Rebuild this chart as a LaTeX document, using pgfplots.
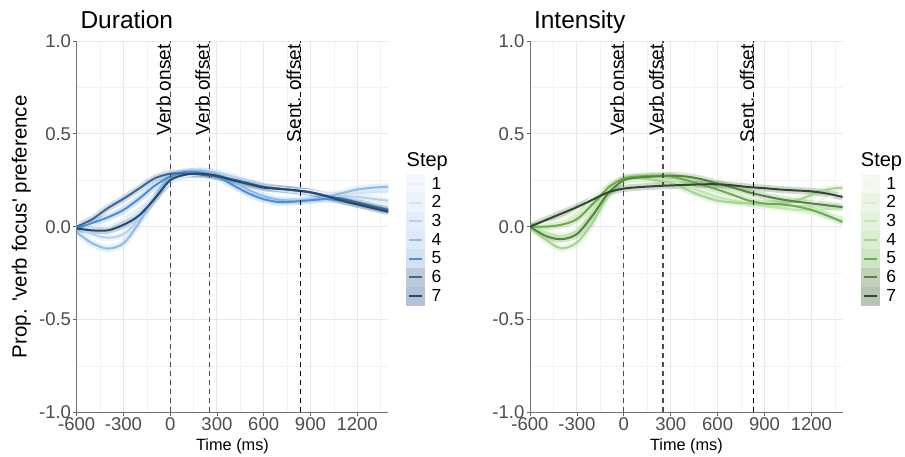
\documentclass[border=0pt]{standalone}
\usepackage{fontspec}
\setmainfont{Liberation Sans}[Ligatures=TeXOff]
\usepackage{pgfplots}
\pgfplotsset{compat=1.18}
\usepackage{pgfplotstable}

% line colours (Blues / Greens)
\definecolor{b1}{HTML}{E6EFF8}
\definecolor{b2}{HTML}{D2E3F3}
\definecolor{b3}{HTML}{B4D2EE}
\definecolor{b4}{HTML}{8FBCE6}
\definecolor{b5}{HTML}{4A8FD8}
\definecolor{b6}{HTML}{3B6792}
\definecolor{b7}{HTML}{244A72}
\definecolor{bf1}{HTML}{F3F7FC}
\definecolor{bf2}{HTML}{ECF3FA}
\definecolor{bf3}{HTML}{E4EEF8}
\definecolor{bf4}{HTML}{DDE9F6}
\definecolor{bf5}{HTML}{D0E1F3}
\definecolor{bf6}{HTML}{BECAD9}
\definecolor{bf7}{HTML}{B2C2D5}
\definecolor{g1}{HTML}{EDF6E9}
\definecolor{g2}{HTML}{DBEFD2}
\definecolor{g3}{HTML}{C4E4B6}
\definecolor{g4}{HTML}{A4D48E}
\definecolor{g5}{HTML}{69AE47}
\definecolor{g6}{HTML}{4E883B}
\definecolor{g7}{HTML}{30492B}
\definecolor{gf1}{HTML}{F4F9F2}
\definecolor{gf2}{HTML}{EBF5E6}
\definecolor{gf3}{HTML}{E3F1DD}
\definecolor{gf4}{HTML}{D9EDD1}
\definecolor{gf5}{HTML}{CEE6C2}
\definecolor{gf6}{HTML}{C3D1BC}
\definecolor{gf7}{HTML}{B8C5B5}

% Duration panel
\pgfplotstableread{
t     s1     s2     s3     s4     s5     s6     s7
-600  0.020  0.010  0.000 -0.030 -0.010  0.000 -0.010
-500  0.010 -0.010 -0.040 -0.090  0.020  0.040 -0.020
-400  0.000 -0.020 -0.060 -0.118  0.050  0.100 -0.020
-300  0.040  0.010 -0.040 -0.090  0.090  0.150  0.010
-200  0.100  0.080  0.040  0.020  0.150  0.205  0.060
-100  0.170  0.160  0.150  0.160  0.220  0.260  0.150
0     0.230  0.240  0.250  0.250  0.270  0.285  0.250
100   0.270  0.280  0.290  0.290  0.295  0.285  0.280
200   0.280  0.290  0.300  0.300  0.290  0.280  0.285
300   0.275  0.280  0.290  0.285  0.270  0.270  0.275
400   0.260  0.260  0.270  0.250  0.225  0.255  0.250
500   0.240  0.235  0.245  0.200  0.180  0.235  0.230
600   0.220  0.210  0.220  0.165  0.148  0.215  0.210
700   0.210  0.195  0.205  0.145  0.132  0.205  0.203
800   0.200  0.185  0.195  0.140  0.135  0.195  0.197
900   0.195  0.175  0.185  0.145  0.142  0.185  0.185
1000  0.180  0.170  0.170  0.160  0.148  0.165  0.165
1100  0.170  0.170  0.165  0.180  0.140  0.150  0.140
1200  0.155  0.180  0.160  0.200  0.122  0.130  0.120
1300  0.140  0.185  0.150  0.210  0.105  0.110  0.100
1400  0.120  0.190  0.140  0.215  0.090  0.090  0.080
}\dur

% Intensity panel
\pgfplotstableread{
t     s1     s2     s3     s4     s5     s6     s7
-600  0.000  0.000  0.000  0.000  0.000  0.000  0.000
-500  0.020  0.010 -0.030 -0.070  0.000 -0.050  0.035
-400  0.040  0.020 -0.050 -0.117  0.010 -0.068  0.070
-300  0.090  0.070 -0.020 -0.085  0.040 -0.040  0.105
-200  0.160  0.140  0.080  0.020  0.120  0.060  0.145
-100  0.210  0.200  0.200  0.170  0.210  0.180  0.185
0     0.240  0.240  0.260  0.250  0.260  0.250  0.205
100   0.255  0.250  0.265  0.260  0.270  0.265  0.213
200   0.260  0.250  0.260  0.250  0.275  0.270  0.218
300   0.245  0.230  0.245  0.235  0.270  0.275  0.222
400   0.220  0.200  0.220  0.200  0.250  0.270  0.225
500   0.195  0.175  0.190  0.165  0.225  0.255  0.228
600   0.170  0.150  0.160  0.140  0.200  0.232  0.228
700   0.155  0.140  0.140  0.130  0.170  0.210  0.222
800   0.140  0.130  0.125  0.125  0.140  0.185  0.213
900   0.130  0.125  0.110  0.123  0.125  0.165  0.207
1000  0.120  0.115  0.100  0.125  0.120  0.148  0.200
1100  0.120  0.100  0.090  0.140  0.110  0.135  0.195
1200  0.130  0.075  0.090  0.170  0.090  0.125  0.190
1300  0.155  0.060  0.095  0.200  0.060  0.115  0.178
1400  0.180  0.050  0.100  0.210  0.025  0.105  0.160
}\inten

\tikzset{vlab/.style={rotate=90, anchor=base east, font=\fontsize{19}{19}\selectfont}}

\pgfplotsset{
  panel/.style={
    scale only axis, height=371.3pt,
    xmin=-600, xmax=1400, ymin=-1, ymax=1,
    axis lines*=left, axis line style={black!55, line width=0.8pt},
    xtick={-600,-300,0,300,600,900,1200},
    minor xtick={-450,-150,150,450,750,1050,1350},
    ytick={-1,-0.5,0,0.5,1}, minor ytick={-0.75,-0.25,0.25,0.75},
    grid=both,
    major grid style={black!9, line width=0.9pt},
    minor grid style={black!5, line width=0.5pt},
    tick align=outside, major tick length=3.5pt, minor tick length=0pt,
    tick style={black!60, line width=0.8pt},
    ticklabel style={font=\fontsize{18.5}{19}\selectfont, text=black!70},
    xticklabel style={inner sep=1.5pt},
    yticklabel style={inner sep=2pt},
    /pgf/number format/assume math mode=true,
    /pgf/number format/1000 sep={},
    yticklabel style={/pgf/number format/.cd, fixed, fixed zerofill, precision=1},
    clip mode=individual,
    legend cell align=left,
    legend style={draw=none, fill=none, inner sep=0pt, row sep=0pt,
      anchor=north west, font=\fontsize{17.5}{17.5}\selectfont,
      nodes={inner sep=0pt, minimum height=18.3pt}},
  },
  halo/.style={line width=7pt, opacity=0.22, smooth, forget plot},
  curve/.style={line width=2pt, smooth, forget plot},
  vline/.style={dash pattern=on 5pt off 4pt, line width=1.2pt, forget plot},
  stepkey/.style 2 args={legend image code/.code={
    \fill[#1] (0pt,-9.15pt) rectangle (18pt,9.15pt);
    \draw[#2, line width=2pt] (2.5pt,0pt) -- (15.5pt,0pt);
    \path (25pt,0pt);}},
}

\begin{document}
\begin{tikzpicture}[x=1pt, y=1pt]
\useasboundingbox (0,0) rectangle (905,457);

\begin{axis}[panel, at={(76.7pt,44.7pt)}, anchor=south west, width=311.6pt,
  legend style={at={(1.0568,0.641)}}]
  \pgfplotsinvokeforeach{1,...,7}{\addplot[b#1, halo] table[x=t, y=s#1] {\dur};}
  \pgfplotsinvokeforeach{1,...,7}{\addplot[b#1, curve] table[x=t, y=s#1] {\dur};}
  \addplot[vline, black!70] coordinates {(0,-1) (0,1)};
  \addplot[vline, black!70] coordinates {(250,-1) (250,1)};
  \addplot[vline, black] coordinates {(835,-1) (835,1)};
  \node[vlab] at (axis cs:0,1) {Verb onset};
  \node[vlab] at (axis cs:250,1) {Verb offset};
  \node[vlab] at (axis cs:835,1) {Sent. offset};
  \pgfplotsinvokeforeach{1,...,7}{\addlegendimage{stepkey={bf#1}{b#1}}\addlegendentry{#1}}
\end{axis}

\begin{axis}[panel, at={(530pt,44.7pt)}, anchor=south west, width=312.7pt,
  legend style={at={(1.0576,0.641)}}]
  \pgfplotsinvokeforeach{1,...,7}{\addplot[g#1, halo] table[x=t, y=s#1] {\inten};}
  \pgfplotsinvokeforeach{1,...,7}{\addplot[g#1, curve] table[x=t, y=s#1] {\inten};}
  \addplot[vline, black!70] coordinates {(0,-1) (0,1)};
  \addplot[vline, black!70] coordinates {(250,-1) (250,1)};
  \addplot[vline, black] coordinates {(830,-1) (830,1)};
  \node[vlab] at (axis cs:0,1) {Verb onset};
  \node[vlab] at (axis cs:250,1) {Verb offset};
  \node[vlab] at (axis cs:830,1) {Sent. offset};
  \pgfplotsinvokeforeach{1,...,7}{\addlegendimage{stepkey={gf#1}{g#1}}\addlegendentry{#1}}
\end{axis}

% titles, axis labels, legend titles
\node[anchor=base west, font=\fontsize{24.5}{25}\selectfont] at (77,428.7) {Duration};
\node[anchor=base west, font=\fontsize{24.5}{25}\selectfont] at (530.5,428.7) {Intensity};
\node[anchor=base, font=\fontsize{16.3}{17}\selectfont] at (232.5,6.3) {Time (ms)};
\node[anchor=base, font=\fontsize{16.3}{17}\selectfont] at (686.4,6.3) {Time (ms)};
\node[rotate=90, anchor=base, font=\fontsize{20.5}{21}\selectfont] at (26.5,230.3) {Prop. 'verb focus' preference};
\node[anchor=base west, inner sep=0pt, font=\fontsize{20}{20}\selectfont] at (406.5,290.3) {Step};
\node[anchor=base west, inner sep=0pt, font=\fontsize{20}{20}\selectfont] at (860.7,290.3) {Step};
\end{tikzpicture}
\end{document}
